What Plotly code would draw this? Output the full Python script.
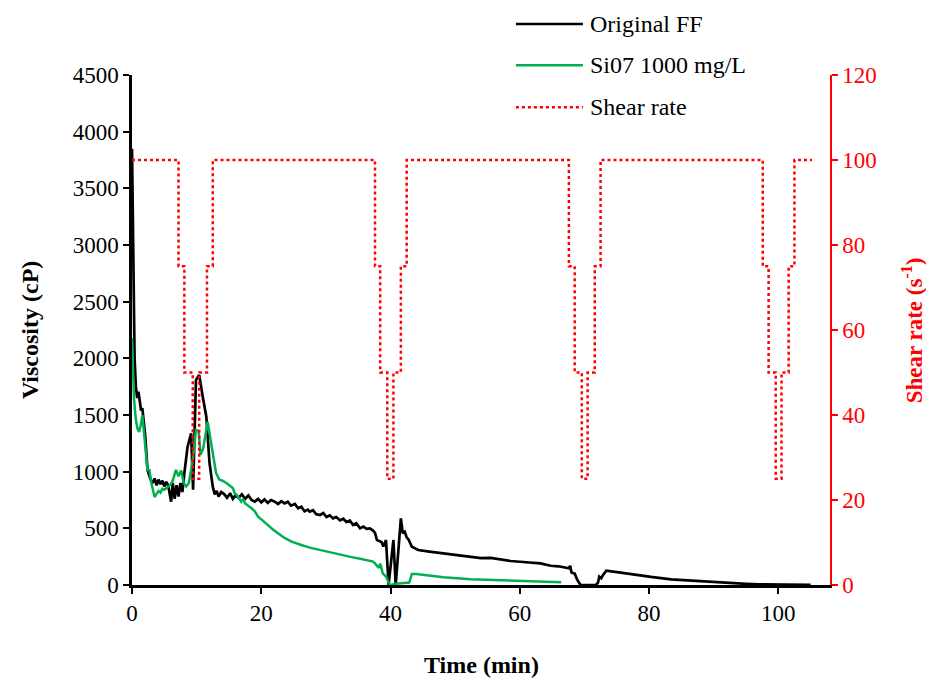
import plotly.graph_objects as go

# ---------------- data ----------------
ff_time = [0, 0.2, 0.4, 0.6, 0.8, 1.0, 1.2, 1.4, 1.6, 1.8, 2.06, 2.4, 2.9, 3.2, 3.5, 3.8, 4.1, 4.4,
           4.7, 5.0, 5.3, 5.6, 6.05, 6.3, 6.6, 6.9, 7.2, 7.5, 7.8, 8.1, 8.6, 9.15, 9.45, 9.9, 10.4,
           10.96, 11.5, 12.0, 12.5, 12.8, 13.1, 13.4, 13.8, 14.3, 14.7, 15.2, 15.6, 16.0, 16.5, 17.0,
           17.5, 18.0, 18.5, 19.0, 19.5, 20.0, 20.5, 21.0, 21.5, 22.1, 22.6, 23.1, 23.6, 24.1, 24.6,
           25.2, 25.7, 26.2, 26.7, 27.2, 27.5, 28.0, 28.5, 29.1, 29.6, 30.1, 30.6, 31.1, 31.6, 32.2,
           32.7, 33.2, 33.7, 34.2, 34.7, 35.3, 35.8, 36.3, 36.8, 37.3, 37.6, 37.9, 38.3, 38.6, 38.9,
           39.3, 39.7, 40.45, 40.8, 41.6, 41.9, 42.2, 42.5, 42.8, 43.3, 44.3, 46, 48.2, 50, 52.4, 54,
           55.5, 57, 58.6, 60, 61.2, 63.2, 64.8, 66, 67.6, 67.8, 68.0, 68.5, 68.9, 69.4, 71.8, 72.1,
           72.3, 72.6, 72.9, 73.4, 75.6, 78.7, 80.3, 83.4, 86, 88.6, 92.7, 95, 97, 100, 105]
ff_visc = [3850, 2900, 2000, 1750, 1650, 1706, 1600, 1540, 1560, 1450, 1309, 1015, 927, 900, 940, 880,
           930, 890, 920, 870, 910, 880, 735, 900, 760, 880, 780, 900, 820, 988, 1220, 1338, 840, 1809,
           1853, 1657, 1485, 1074, 868, 800, 830, 780, 820, 800, 770, 810, 760, 790, 770, 800, 760, 790,
           750, 735, 760, 730, 755, 725, 750, 735, 715, 740, 720, 735, 700, 715, 677, 690, 650, 665, 647,
           660, 625, 618, 635, 600, 615, 588, 600, 570, 585, 555, 570, 529, 545, 500, 515, 495, 500, 480,
           460, 397, 385, 380, 340, 397, 0, 397, 0, 588, 456, 470, 420, 400, 338, 309, 295, 279, 265,
           250, 238, 240, 225, 212, 205, 200, 191, 170, 165, 147, 170, 110, 100, 45, 0, 0, 20, 74, 60,
           90, 126, 109, 80, 71, 50, 40, 30, 15, 10, 5, 3, 2]

si_time = [0, 0.15, 0.3, 0.6, 0.85, 1.1, 1.4, 1.6, 1.8, 2.2, 2.4, 2.7, 3.0, 3.5, 3.8, 4.1, 4.4, 4.7,
           5.0, 5.4, 5.9, 6.3, 6.8, 7.2, 7.6, 8.0, 8.4, 8.8, 9.4, 9.9, 10.3, 10.6, 11.0, 11.7, 12.2,
           13.0, 13.5, 14.0, 14.6, 15.1, 15.6, 15.9, 16.4, 16.9, 17.2, 17.5, 18.0, 18.5, 19.0, 19.5,
           20.2, 21.0, 21.8, 22.6, 23.6, 24.7, 25.5, 26.2, 27.5, 29.1, 30.5, 32.2, 33.8, 35.3, 36.5,
           37.3, 37.6, 37.9, 38.2, 38.4, 38.8, 39.3, 39.8, 40.1, 40.6, 42.9, 43.3, 44.0, 48.2, 52.4,
           53.9, 58, 62, 64.8, 66.4]
si_visc = [2180, 1900, 1650, 1456, 1380, 1350, 1420, 1500, 1380, 1103, 1015, 1015, 900, 776, 800, 830,
           815, 850, 840, 860, 880, 920, 1015, 960, 1010, 900, 870, 900, 1103, 1368, 1360, 1150, 1200,
           1441, 1280, 990, 930, 920, 900, 880, 855, 810, 780, 735, 760, 720, 700, 677, 650, 603, 570,
           529, 490, 456, 415, 382, 365, 353, 330, 309, 290, 265, 248, 232, 215, 206, 191, 165, 150,
           190, 103, 75, 10, 0, 10, 22, 97, 97, 68, 50, 48, 40, 35, 30, 25]

shear_time = [0, 7.2, 8.1, 9.4, 10.4, 11.6, 12.5, 37.6, 38.4, 39.5, 40.45, 41.6, 42.5,
              67.6, 68.5, 69.6, 70.5, 71.6, 72.5, 97.6, 98.5, 99.6, 100.5, 101.6, 102.5, 105.2]
shear_rate = [100, 75, 50, 25, 50, 75, 100, 75, 50, 25, 50, 75, 100,
              75, 50, 25, 50, 75, 100, 75, 50, 25, 50, 75, 100, 100]

x_ticks = [0, 20, 40, 60, 80, 100]
series_names = ["Original FF", "Si07 1000 mg/L", "Shear rate"]

FONT = "Liberation Serif"
RED = "#FF0000"
GREEN = "#00B050"
colors = ["black", GREEN, RED]
dashes = ["solid", "solid", "dot"]

fig = go.Figure()
fig.add_trace(go.Scatter(x=ff_time, y=ff_visc, mode="lines", name=series_names[0],
                         line=dict(color="black", width=2.7), showlegend=False))
fig.add_trace(go.Scatter(x=si_time, y=si_visc, mode="lines", name=series_names[1],
                         line=dict(color=GREEN, width=2.5), showlegend=False))
fig.add_trace(go.Scatter(x=shear_time, y=shear_rate, mode="lines", name=series_names[2],
                         line=dict(color=RED, width=2.5, dash="dot", shape="hv"),
                         yaxis="y2", showlegend=False))

# custom legend (long line samples, wide spacing as in reference)
leg_y = [1.100, 1.019, 0.937]
for name, c, d, yy in zip(series_names, colors, dashes, leg_y):
    fig.add_shape(type="line", xref="paper", yref="paper", x0=0.550, x1=0.646, y0=yy, y1=yy,
                  line=dict(color=c, width=2.5, dash=d))
    fig.add_annotation(text=name, xref="paper", yref="paper", x=0.654, y=yy,
                       xanchor="left", yanchor="middle", showarrow=False,
                       font=dict(size=24, family=FONT, color="black"))

# axis titles
fig.add_annotation(text="<b>Viscosity (cP)</b>", xref="paper", yref="paper", x=-0.146, y=0.5,
                   xanchor="center", yanchor="middle", textangle=-90, showarrow=False,
                   font=dict(size=24, family=FONT, color="black"))
fig.add_annotation(text="<b>Shear rate (s<sup>-1</sup>)</b>", xref="paper", yref="paper", x=1.118, y=0.5,
                   xanchor="center", yanchor="middle", textangle=-90, showarrow=False,
                   font=dict(size=23, family=FONT, color=RED))
fig.add_annotation(text="<b>Time (min)</b>", xref="paper", yref="paper", x=0.5, y=-0.157,
                   xanchor="center", yanchor="middle", showarrow=False,
                   font=dict(size=24, family=FONT, color="black"))

# the page body adds an 8px offset; size the figure so the plot area lands at 132..830 x 75..585
fig.update_layout(
    width=926, height=671,
    margin=dict(l=124, r=104, t=67, b=94, autoexpand=False),
    paper_bgcolor="white", plot_bgcolor="white",
    font=dict(family=FONT, size=23, color="black"),
    showlegend=False,
    xaxis=dict(range=[0, 108], tickvals=x_ticks, showgrid=False, zeroline=False,
               showline=True, linecolor="black", linewidth=2.5, automargin=False,
               ticks="outside", ticklen=6, tickwidth=1.5, tickcolor="black",
               tickfont=dict(size=23, family=FONT)),
    yaxis=dict(range=[0, 4500], dtick=500, showgrid=False, zeroline=False,
               showline=True, linecolor="black", linewidth=2.5, automargin=False,
               ticks="outside", ticklen=6, tickwidth=1.5, tickcolor="black",
               tickfont=dict(size=23, family=FONT)),
    yaxis2=dict(range=[0, 120], dtick=20, overlaying="y", side="right", anchor="x",
                showgrid=False, zeroline=False, automargin=False,
                showline=True, linecolor=RED, linewidth=1.5,
                ticks="outside", ticklen=6, tickwidth=1.5, tickcolor=RED,
                tickfont=dict(size=23, family=FONT, color=RED)),
)

fig.write_html("out.html")
